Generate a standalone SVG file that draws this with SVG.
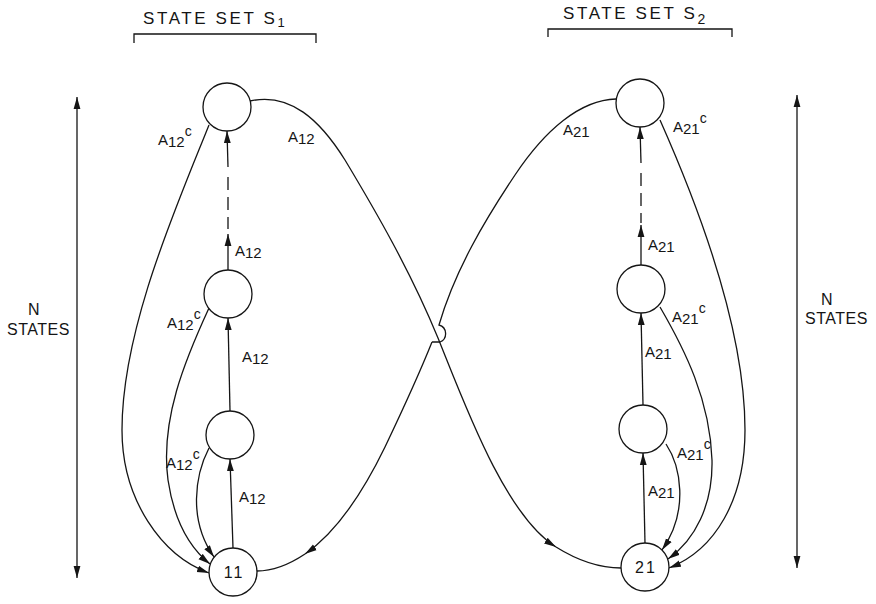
<svg xmlns="http://www.w3.org/2000/svg" width="876" height="604" viewBox="0 0 876 604">
  <style>
    .bg { fill: #ffffff; }
    .node { fill: #ffffff; stroke: #151515; stroke-width: 1.3; }
    .edge { fill: none; stroke: #151515; stroke-width: 1.3; }
    .arr { marker-end: url(#ah); }
    .dash { stroke-dasharray: 13 7; }
    .txt { font-family: "Liberation Sans", Arial, sans-serif; fill: #151515; }
    .title { font-size: 17px; letter-spacing: 2.6px; }
    .side { font-size: 16px; text-anchor: middle; letter-spacing: 0.5px; }
    .lbl { font-size: 15px; }
    .nlbl { font-size: 16px; text-anchor: middle; letter-spacing: 2px; }
  </style>
  <defs>
    <marker id="ah" viewBox="0 0 12 8" markerWidth="12" markerHeight="8" refX="12" refY="4" orient="auto-start-reverse" markerUnits="userSpaceOnUse">
      <path d="M0,0.6 L12,4 L0,7.4 Z" fill="#151515"/>
    </marker>
  </defs>
  <rect class="bg" x="0" y="0" width="876" height="604"/>

  <!-- headers -->
  <g id="header-s1">
    <text class="txt title" x="143" y="24">STATE SET S<tspan font-size="13" dy="3">1</tspan></text>
    <path class="edge" d="M134 43 L134 34 L316 34 L316 43"/>
  </g>
  <g id="header-s2">
    <text class="txt title" x="563" y="19">STATE SET S<tspan font-size="14" dy="5">2</tspan></text>
    <path class="edge" d="M548 37 L548 29 L732 29 L732 37"/>
  </g>

  <!-- N states side scales -->
  <g id="scale-left">
    <line class="edge" x1="77" y1="97" x2="77" y2="578" marker-start="url(#ah)" marker-end="url(#ah)"/>
    <text class="txt side" x="34" y="315">N</text>
    <text class="txt side" x="38.5" y="335">STATES</text>
  </g>
  <g id="scale-right">
    <line class="edge" x1="797" y1="95" x2="797" y2="568" marker-start="url(#ah)" marker-end="url(#ah)"/>
    <text class="txt side" x="827" y="305">N</text>
    <text class="txt side" x="836.5" y="324">STATES</text>
  </g>

  <!-- connectors -->
  <g id="connectors">
    <!-- S1 chain -->
    <line class="edge arr" x1="233" y1="548" x2="230" y2="459"/>
    <line class="edge arr" x1="230" y1="411" x2="228" y2="318"/>
    <line class="edge arr" x1="228" y1="270" x2="228" y2="234"/>
    <line class="edge dash" x1="228" y1="177" x2="228" y2="229"/>
    <line class="edge arr" x1="228" y1="167" x2="227" y2="131"/>
    <!-- S1 complement returns -->
    <path class="edge arr" d="M209 125 C175 210 122 330 122 430 C122 500 162 556 209 573"/>
    <path class="edge arr" d="M209 308 C185 360 160 420 168 480 C174 520 190 548 210 564"/>
    <path class="edge arr" d="M209 448 C195 475 188 520 214 557"/>

    <!-- S2 chain -->
    <line class="edge arr" x1="645" y1="543" x2="643" y2="453"/>
    <line class="edge arr" x1="643" y1="405" x2="641" y2="313"/>
    <line class="edge arr" x1="641" y1="265" x2="641" y2="225"/>
    <line class="edge dash" x1="641" y1="173" x2="641" y2="223"/>
    <line class="edge arr" x1="641" y1="163" x2="640" y2="127"/>
    <!-- S2 complement returns -->
    <path class="edge arr" d="M660 120 C700 210 745 330 745 430 C745 500 715 550 669 568"/>
    <path class="edge arr" d="M660 307 C685 350 710 400 712 460 C713 505 695 540 668 559"/>
    <path class="edge arr" d="M666 444 C680 465 690 510 662 550"/>

    <!-- cross transitions -->
    <path class="edge arr" d="M250 101 C290 92 320 120 345 160 C375 210 410 270 438 338 C465 405 505 515 556 547"/>
    <path class="edge" d="M556 547 C580 562 600 568 621 568"/>

    <path class="edge" d="M616 99 C580 100 545 130 515 175 C485 220 455 270 439 325 A9 9 0 0 1 440 342 L432 342"/>
    <path class="edge arr" d="M432 342 C420 372 405 405 385 447 C368 482 340 530 305 554"/>
    <path class="edge" d="M305 554 C290 564 273 571 257 571"/>
  </g>

  <!-- edge labels -->
  <g id="labels">
    <text class="txt lbl" x="158" y="145">A<tspan dy="2">12</tspan><tspan font-size="14" dy="-11">c</tspan></text>
    <text class="txt lbl" x="288" y="142">A<tspan dy="2">12</tspan></text>
    <text class="txt lbl" x="235" y="256">A<tspan dy="2">12</tspan></text>
    <text class="txt lbl" x="167" y="328">A<tspan dy="2">12</tspan><tspan font-size="14" dy="-11">c</tspan></text>
    <text class="txt lbl" x="242" y="362">A<tspan dy="2">12</tspan></text>
    <text class="txt lbl" x="166" y="468">A<tspan dy="2">12</tspan><tspan font-size="14" dy="-11">c</tspan></text>
    <text class="txt lbl" x="239" y="502">A<tspan dy="2">12</tspan></text>

    <text class="txt lbl" x="563" y="135">A<tspan dy="2">21</tspan></text>
    <text class="txt lbl" x="673" y="132">A<tspan dy="2">21</tspan><tspan font-size="14" dy="-11">c</tspan></text>
    <text class="txt lbl" x="648" y="250">A<tspan dy="2">21</tspan></text>
    <text class="txt lbl" x="672" y="322">A<tspan dy="2">21</tspan><tspan font-size="14" dy="-11">c</tspan></text>
    <text class="txt lbl" x="645" y="357">A<tspan dy="2">21</tspan></text>
    <text class="txt lbl" x="677" y="458">A<tspan dy="2">21</tspan><tspan font-size="14" dy="-11">c</tspan></text>
    <text class="txt lbl" x="648" y="496">A<tspan dy="2">21</tspan></text>
  </g>

  <!-- S1 nodes -->
  <g id="s1-n"><circle class="node" cx="227" cy="107" r="24"/></g>
  <g id="s1-3"><circle class="node" cx="228" cy="294" r="24"/></g>
  <g id="s1-2"><circle class="node" cx="230" cy="435" r="24"/></g>
  <g id="s1-1"><circle class="node" cx="233" cy="572" r="24"/><text class="txt nlbl" x="234" y="578">11</text></g>

  <!-- S2 nodes -->
  <g id="s2-n"><circle class="node" cx="640" cy="103" r="24"/></g>
  <g id="s2-3"><circle class="node" cx="641" cy="289" r="24"/></g>
  <g id="s2-2"><circle class="node" cx="643" cy="429" r="24"/></g>
  <g id="s2-1"><circle class="node" cx="645" cy="567" r="24"/><text class="txt nlbl" x="646" y="573">21</text></g>
</svg>
